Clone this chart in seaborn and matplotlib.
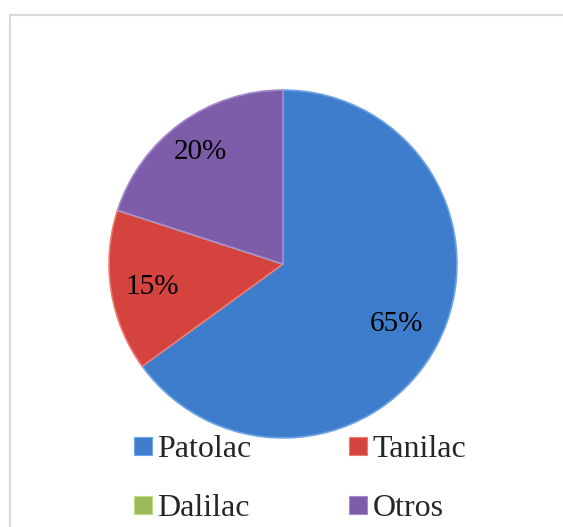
import matplotlib
matplotlib.use('Agg')
import matplotlib.pyplot as plt
from matplotlib.lines import Line2D
from matplotlib.patches import Rectangle
import numpy as np
import seaborn as sns

##### DATA #####
brands = ['Patolac', 'Tanilac', 'Dalilac', 'Otros']
shares = [65, 15, 0, 20]
colors = ['#3d7dcc', '#d4433d', '#9bbb59', '#7d5ca9']
edges = ['#6fa6e6', '#ee7a72', '#c0db85', '#a68bcc']
label_dist = [0.73, 0.76, 0.8, 0.81]
#####

sns.set_style('white')
plt.rcParams['font.family'] = ['Liberation Serif', 'DejaVu Serif']

fig = plt.figure(figsize=(5.63, 5.27), dpi=100)

# light grey frame round the chart area
fig.patches.append(Rectangle((10 / 563, -0.05), 1.1, (527 - 15) / 527 + 0.05,
                             transform=fig.transFigure, fill=False,
                             edgecolor='#d9d9d9', linewidth=1.6))

# pie: centre (283, 264) px, radius ~174 px
r = 175
ax = fig.add_axes([(283 - r) / 563, (527 - 264 - r) / 527, 2 * r / 563, 2 * r / 527])


def pct(v):
    return '' if v < 0.5 else '%1.0f%%' % v


wedges, texts, autotexts = ax.pie(
    shares, colors=colors, startangle=90, counterclock=False,
    autopct=pct, pctdistance=0.8, radius=1.0,
    wedgeprops=dict(linewidth=1.2),
    textprops=dict(fontsize=21, color='black'))
for w, e, t, d in zip(wedges, edges, autotexts, label_dist):
    w.set_edgecolor(e)
    mid = np.deg2rad((w.theta1 + w.theta2) / 2)
    t.set_position((d * np.cos(mid), d * np.sin(mid) - 0.012))
ax.set_xlim(-1.006, 1.006)
ax.set_ylim(-1.006, 1.006)
ax.set_aspect('equal')
ax.axis('off')

handles = [Line2D([], [], linestyle='none', marker='s', markersize=13,
                  markerfacecolor=c, markeredgecolor=e, markeredgewidth=0.8)
           for c, e in zip(colors, edges)]
# legend fills column by column: reorder so rows read Patolac/Tanilac, Dalilac/Otros
order = [0, 2, 1, 3]
fig.legend([handles[i] for i in order], [brands[i] for i in order],
           ncol=2, frameon=False,
           loc='upper left', bbox_to_anchor=(133 / 563, 1 - 435 / 527),
           fontsize=23, handlelength=0.6, handletextpad=0.15,
           columnspacing=3.05, labelspacing=0.93, borderpad=0, borderaxespad=0)

plt.savefig('out.png', dpi=100)
